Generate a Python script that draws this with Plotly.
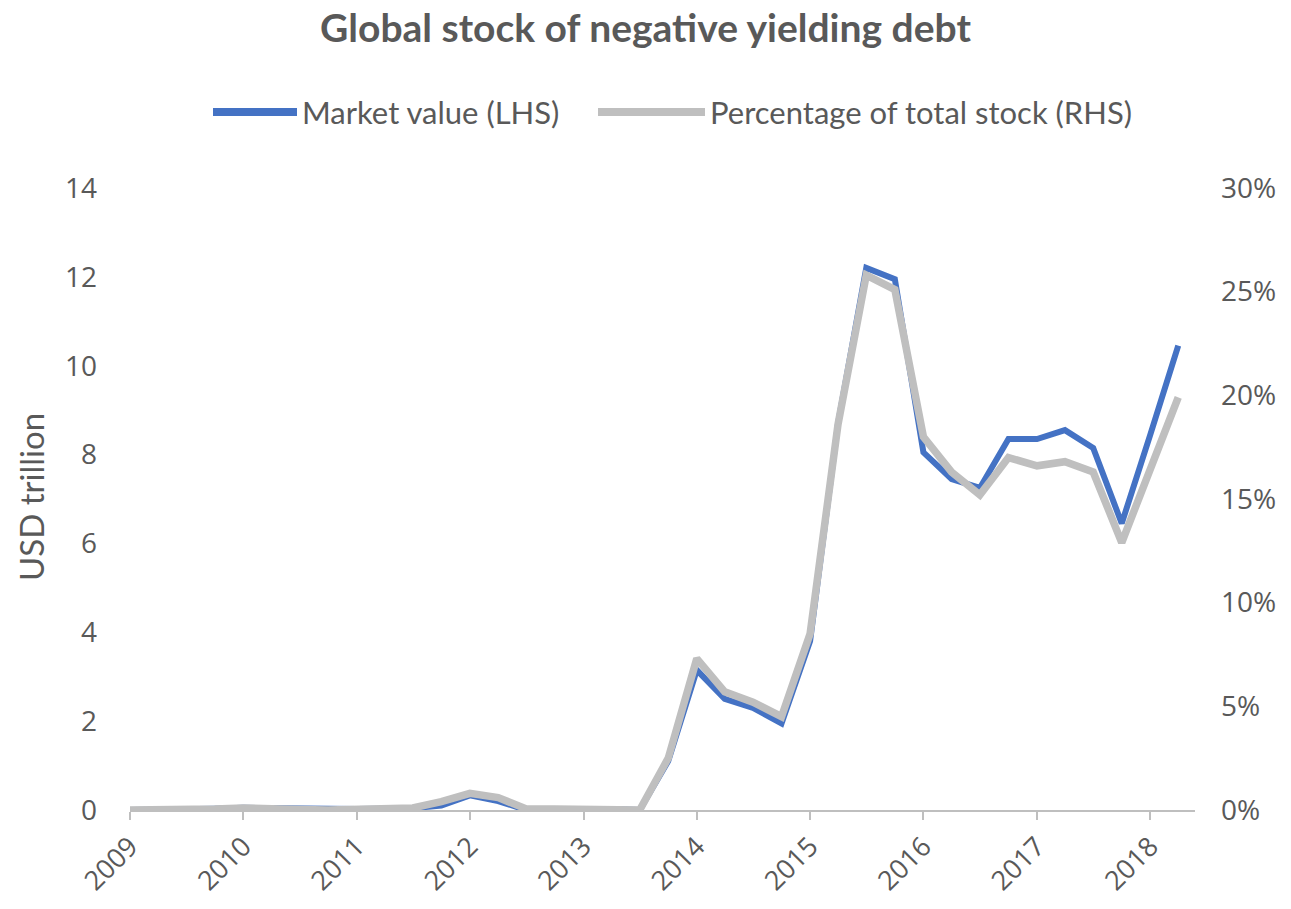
import plotly.graph_objects as go
import pandas as pd

# Quarterly observations, 2009 Q1 .. 2018 Q2
quarters = pd.date_range("2009-01-01", periods=38, freq="QS").strftime("%Y-%m-%d").tolist()

market_value_usd_tn = [
    0.0, 0.0, 0.02, 0.03, 0.05, 0.04, 0.01, 0.0,
    0.02, 0.03, 0.04, 0.10, 0.33, 0.20, 0.0, 0.0,
    0.02, 0.02, 0.0, 1.10, 3.15, 2.50, 2.30, 1.95,
    3.80, 8.70, 12.20, 11.95, 8.05, 7.45, 7.25, 8.35,
    8.35, 8.55, 8.15, 6.45, 8.45, 10.45,
]
pct_of_total_stock = [
    0.0, 0.0, 0.05, 0.05, 0.10, 0.10, 0.02, 0.0,
    0.05, 0.05, 0.10, 0.40, 0.80, 0.60, 0.05, 0.05,
    0.05, 0.05, 0.0, 2.50, 7.30, 5.70, 5.20, 4.50,
    8.50, 18.60, 25.80, 25.10, 18.00, 16.30, 15.20, 17.00,
    16.60, 16.80, 16.30, 12.90, 16.40, 19.90,
]
series_names = ["Market value (LHS)", "Percentage of total stock (RHS)"]
series_colors = ["#4472C4", "#BFBFBF"]
year_ticks = [f"{y}-01-01" for y in range(2009, 2019)]
year_labels = [str(y) for y in range(2009, 2019)]
left_ticks = [0, 2, 4, 6, 8, 10, 12, 14]
right_ticks = [0, 5, 10, 15, 20, 25, 30]
right_labels = [f"{v}%" for v in right_ticks]

TXT = "#595959"
FONT = "Lato, 'Open Sans', sans-serif"
NUMFONT = "'Open Sans', sans-serif"

W, H = 1291, 909
L, R, T, B = 130, 96, 188, 99
PW, PH = W - L - R, H - T - B


def px_x(px):
    return (px - L) / PW


def px_y(py):
    return (H - B - py) / PH


fig = go.Figure()
fig.add_trace(go.Scatter(
    x=quarters, y=market_value_usd_tn, mode="lines", name=series_names[0],
    line=dict(color=series_colors[0], width=6), yaxis="y",
))
fig.add_trace(go.Scatter(
    x=quarters, y=pct_of_total_stock, mode="lines", name=series_names[1],
    line=dict(color=series_colors[1], width=7.5), yaxis="y2",
))

# Custom legend (long thick line samples as in the reference)
legend_y = 112
legend_items = [(213, 297, 300), (598, 705, 708)]
shapes, annotations = [], []
for (x0, x1, tx), name, col in zip(legend_items, series_names, series_colors):
    shapes.append(dict(type="line", xref="paper", yref="paper",
                       x0=px_x(x0), x1=px_x(x1), y0=px_y(legend_y), y1=px_y(legend_y),
                       line=dict(color=col, width=8)))
    annotations.append(dict(xref="paper", yref="paper", x=px_x(tx), y=px_y(legend_y),
                            xanchor="left", yanchor="middle", showarrow=False, text=name,
                            font=dict(size=31, color=TXT, family=FONT)))

annotations.append(dict(xref="paper", yref="paper", x=px_x(31), y=px_y(497),
                        xanchor="center", yanchor="middle", showarrow=False,
                        text="USD trillion", textangle=-90,
                        font=dict(size=33, color=TXT, family=FONT)))

fig.update_layout(
    width=W, height=H,
    margin=dict(l=L, r=R, t=T, b=B),
    paper_bgcolor="white", plot_bgcolor="white",
    font=dict(family=FONT, color=TXT, size=24),
    title=dict(text="<b>Global stock of negative yielding debt</b>",
               x=0.5, xanchor="center", y=0.969, yanchor="middle", yref="container",
               font=dict(size=39, color=TXT, family=FONT)),
    showlegend=False,
    shapes=shapes,
    annotations=annotations,
    xaxis=dict(
        range=["2009-01-01", "2018-05-25"],
        tickmode="array", tickvals=year_ticks, ticktext=year_labels,
        tickangle=-45, tickfont=dict(size=27, color=TXT, family=NUMFONT),
        showgrid=False, zeroline=False,
        showline=True, linecolor="#BFBFBF", linewidth=2,
        ticks="outside", ticklen=8, tickcolor="#BFBFBF", tickwidth=2,
    ),
    yaxis=dict(
        range=[0, 14], tickmode="array", tickvals=left_ticks,
        tickfont=dict(size=28, color=TXT, family=NUMFONT),
        showgrid=False, zeroline=False, showline=False, ticks="",
        ticklabelstandoff=32,
    ),
    yaxis2=dict(
        range=[0, 30], overlaying="y", side="right", tickmode="array",
        tickvals=right_ticks, ticktext=right_labels,
        tickfont=dict(size=28, color=TXT, family=NUMFONT),
        showgrid=False, zeroline=False, showline=False, ticks="",
        ticklabelstandoff=25,
    ),
)

fig.write_html("out.html")
